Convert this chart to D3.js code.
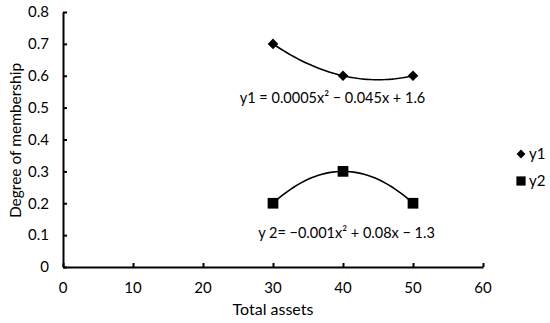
<!DOCTYPE html>
<html>
<head>
<meta charset="utf-8">
<script src="https://cdn.jsdelivr.net/npm/d3@7"></script>
<style>
  body { margin: 0; background: #fff; }
  text { font-family: Lato, "Open Sans", sans-serif; fill: #000; }
</style>
</head>
<body>
<div id="chart"></div>
<script>
// data
const xValues = [30, 40, 50]
const y1Values = [0.7, 0.6, 0.6]
const y2Values = [0.2, 0.3, 0.2]
const seriesNames = ['y1', 'y2']
// trendline coefficients (a, b, c) for a*x^2 + b*x + c, as printed on the chart
const y1Coef = [0.0005, -0.045, 1.6]
const y2Coef = [-0.001, 0.08, -1.3]
const y1Label = 'y1 = 0.0005x² − 0.045x + 1.6'
const y2Label = 'y 2= −0.001x² + 0.08x − 1.3'
const xTicks = [0, 10, 20, 30, 40, 50, 60]
const yTicks = [0, 0.1, 0.2, 0.3, 0.4, 0.5, 0.6, 0.7, 0.8]

const width = 550
const height = 323
const margin = {top: 12, right: 67, bottom: 56, left: 63}

const x = d3.scaleLinear()
  .domain([0, 60])
  .range([margin.left, width - margin.right])
const y = d3.scaleLinear()
  .domain([0, 0.8])
  .range([height - margin.bottom, margin.top])

const svg = d3.create('svg')
  .attr('width', width)
  .attr('height', height)

// axes, ticks pointing inward
const xAxis = g => g
  .attr('transform', `translate(0, ${y(0)})`)
  .call(d3.axisTop(x).tickValues(xTicks).tickSize(4).tickSizeOuter(0))
  .call(g => g.selectAll('text').remove())
const yAxis = g => g
  .attr('transform', `translate(${x(0)}, 0)`)
  .call(d3.axisRight(y).tickValues(yTicks).tickSize(4).tickSizeOuter(0))
  .call(g => g.selectAll('text').remove())

svg.append('g').call(xAxis)
svg.append('g').call(yAxis)
svg.selectAll('.domain, .tick line').attr('stroke', '#000').attr('stroke-width', 2)

// tick labels
svg.append('g')
    .attr('font-size', 15)
    .attr('text-anchor', 'middle')
  .selectAll('text')
  .data(xTicks)
  .join('text')
    .attr('x', d => x(d))
    .attr('y', y(0) + 26)
    .text(d => d)

svg.append('g')
    .attr('font-size', 15)
    .attr('text-anchor', 'end')
  .selectAll('text')
  .data(yTicks)
  .join('text')
    .attr('x', x(0) - 14)
    .attr('y', d => y(d))
    .attr('dy', '0.35em')
    .text(d => d === 0 ? '0' : d3.format('.1f')(d))

// axis titles
svg.append('text')
  .attr('x', x(30))
  .attr('y', 315)
  .attr('text-anchor', 'middle')
  .attr('font-size', 16)
  .text('Total assets')

svg.append('text')
  .attr('transform', `translate(21, ${y(0.4) + 1}) rotate(-90)`)
  .attr('text-anchor', 'middle')
  .attr('font-size', 15.5)
  .text('Degree of membership')

// trendlines
const poly = c => v => c[0] * v * v + c[1] * v + c[2]
const trendX = d3.range(xValues[0], xValues[xValues.length - 1] + 0.01, 0.5)
const line = d3.line().x(d => x(d[0])).y(d => y(d[1]))
;[y1Coef, y2Coef].forEach(c => {
  const f = poly(c)
  svg.append('path')
    .attr('d', line(trendX.map(v => [v, f(v)])))
    .attr('fill', 'none')
    .attr('stroke', '#000')
    .attr('stroke-width', 1.6)
})

// markers
const diamond = d3.symbol().type(d3.symbolDiamond2).size(72)
const square = d3.symbol().type(d3.symbolSquare).size(115)

svg.append('g')
  .selectAll('path')
  .data(xValues.map((v, i) => [v, y1Values[i]]))
  .join('path')
    .attr('transform', d => `translate(${x(d[0])}, ${y(d[1])})`)
    .attr('d', diamond)
    .attr('fill', '#000')

svg.append('g')
  .selectAll('path')
  .data(xValues.map((v, i) => [v, y2Values[i]]))
  .join('path')
    .attr('transform', d => `translate(${x(d[0])}, ${y(d[1])})`)
    .attr('d', square)
    .attr('fill', '#000')

// equation labels
svg.append('text')
  .attr('x', x(38.5))
  .attr('y', 103)
  .attr('text-anchor', 'middle')
  .attr('font-size', 14.5)
  .text(y1Label)

svg.append('text')
  .attr('x', x(40.5))
  .attr('y', 238)
  .attr('text-anchor', 'middle')
  .attr('font-size', 14.5)
  .text(y2Label)

// legend
const legend = svg.append('g')
  .selectAll('g')
  .data(seriesNames)
  .join('g')
    .attr('transform', (d, i) => `translate(521, ${154 + i * 27})`)
legend.append('path')
  .attr('d', (d, i) => (i === 0 ? d3.symbol().type(d3.symbolDiamond2).size(50) : d3.symbol().type(d3.symbolSquare).size(85))())
  .attr('fill', '#000')
legend.append('text')
  .attr('x', 8)
  .attr('dy', '0.35em')
  .attr('font-size', 15)
  .text(d => d)

document.getElementById('chart').appendChild(svg.node())
</script>
</body>
</html>
